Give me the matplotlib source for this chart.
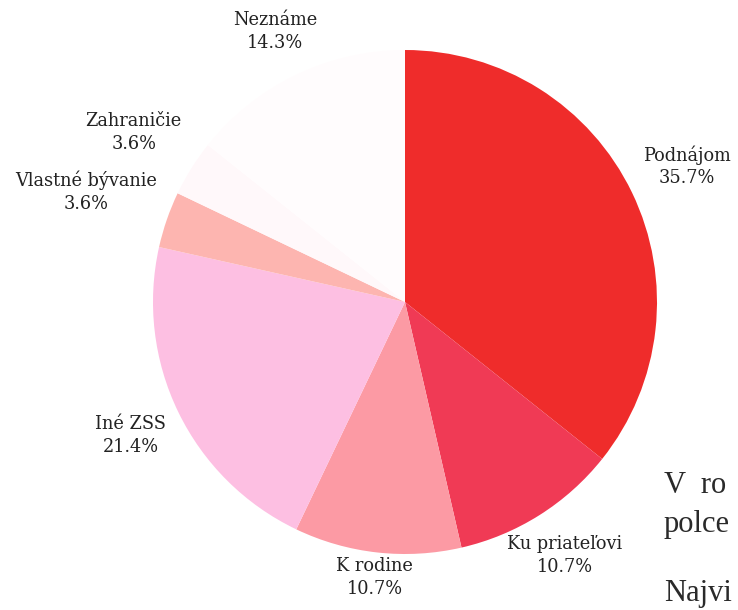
import matplotlib
matplotlib.use("Agg")
import matplotlib.pyplot as plt
import numpy as np

# Údaje: kam odchádzajú klienti
categories = ["Podnájom", "Ku priateľovi", "K rodine", "Iné ZSS",
              "Vlastné bývanie", "Zahraničie", "Neznáme"]
shares = [35.7, 10.7, 10.7, 21.4, 3.6, 3.6, 14.3]

colors = ["#EF2C2B", "#F03A55", "#FC9AA4", "#FDBFE2",
          "#FDB5B0", "#FFF8FA", "#FFFCFD"]
# vzdialenosť popisu od stredu (násobok polomeru)
label_dist = [1.24, 1.19, 1.10, 1.21, 1.34, 1.27, 1.19]

W, H = 738, 610
fig = plt.figure(figsize=(W / 100, H / 100), dpi=100)
ax = fig.add_axes([0, 0, 1, 1])

cx, cy, r = 405, 308, 252
wedges, _ = ax.pie(
    shares, colors=colors, startangle=90, counterclock=False,
    center=(cx, cy), radius=r, frame=True,
    wedgeprops={"linewidth": 0},
)
ax.set_xlim(0, W)
ax.set_ylim(0, H)
ax.set_aspect("equal")
ax.axis("off")

for w, name, val, d in zip(wedges, categories, shares, label_dist):
    ang = np.deg2rad((w.theta1 + w.theta2) / 2)
    x = cx + d * r * np.cos(ang)
    y = cy + d * r * np.sin(ang)
    ax.text(x, y, f"{name}\n{val:.1f}%", ha="center", va="center",
            fontsize=12.8, family="DejaVu Serif", color="#222222",
            linespacing=1.35)

# orezaný text dokumentu vpravo dole
body = dict(fontsize=22, family="Liberation Serif", color="#2a2a2a",
            ha="left", va="baseline")
ax.text(664, H - 493, "V  ro", **body)
ax.text(664, H - 532, "polce", **body)
ax.text(664, H - 601, "Najvi", **body)

fig.savefig("out.png", dpi=100, facecolor="white")
